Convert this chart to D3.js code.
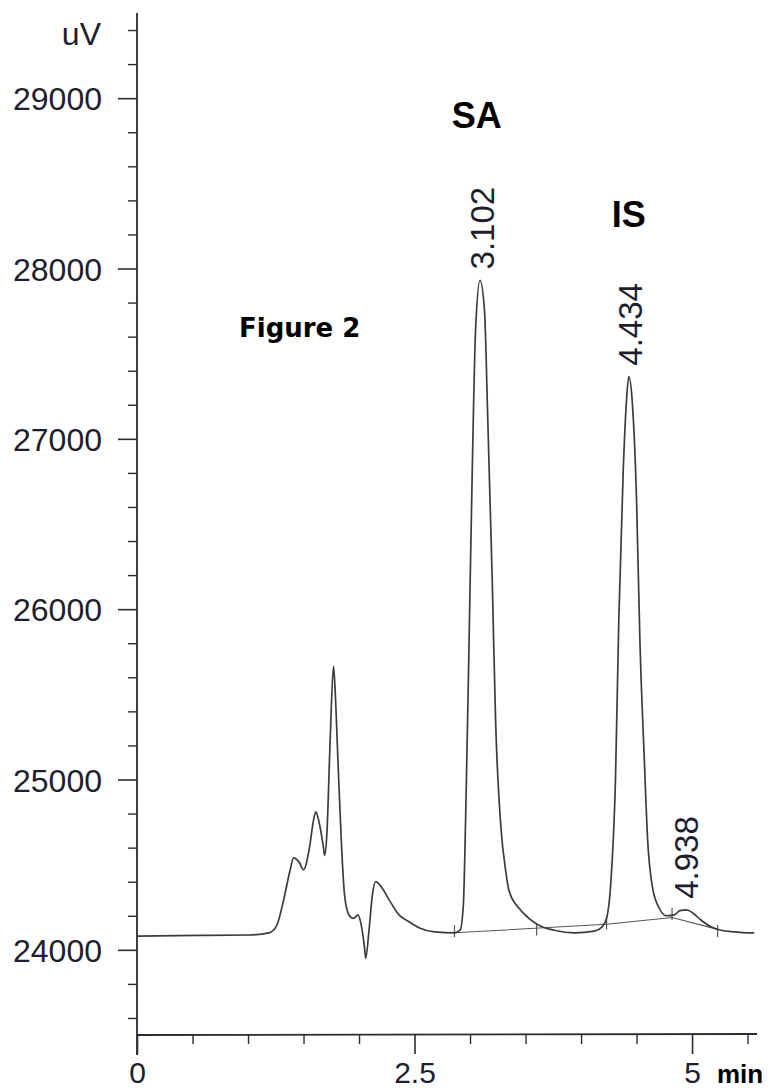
<!DOCTYPE html>
<html>
<head>
<meta charset="utf-8">
<script src="https://cdn.jsdelivr.net/npm/d3@7"></script>
<style>
  body { margin: 0; background: #fff; }
  svg { display: block; }
</style>
</head>
<body>
<script>
// chromatogram trace: time (min) and signal (uV)
const traceTime = [
  0.00, 0.56, 1.01, 1.19, 1.26, 1.32, 1.38, 1.41, 1.46, 1.50,
  1.55, 1.59, 1.61, 1.64, 1.68, 1.69, 1.71, 1.74, 1.77, 1.78,
  1.81, 1.84, 1.87, 1.91, 1.95, 1.99, 2.02, 2.05, 2.06, 2.09,
  2.12, 2.15, 2.20, 2.27, 2.36, 2.45, 2.54, 2.68, 2.86, 2.91,
  2.94, 2.96, 2.99, 3.02, 3.05, 3.09, 3.13, 3.16, 3.20, 3.23,
  3.28, 3.32, 3.35, 3.44, 3.53, 3.62, 3.76, 3.94, 4.12, 4.19,
  4.23, 4.27, 4.31, 4.34, 4.38, 4.41, 4.43, 4.46, 4.50, 4.53,
  4.57, 4.60, 4.64, 4.70, 4.77, 4.84, 4.89, 4.95, 5.01, 5.08,
  5.17, 5.26, 5.38, 5.50, 5.56
];
const traceSignal = [
  24080, 24085, 24087, 24100, 24145, 24290, 24470, 24540, 24515, 24470,
  24585, 24760, 24810, 24750, 24600, 24555, 24675, 25230, 25665, 25585,
  25115, 24645, 24320, 24205, 24185, 24205, 24145, 24010, 23950, 24115,
  24320, 24400, 24370, 24295, 24205, 24165, 24130, 24105, 24100, 24115,
  24265, 24760, 25760, 26815, 27640, 27930, 27755, 27110, 26170, 25350,
  24705, 24470, 24350, 24245, 24185, 24145, 24115, 24100, 24110, 24135,
  24185, 24410, 24995, 25935, 26815, 27230, 27365, 27230, 26640, 25820,
  25115, 24645, 24380, 24250, 24200, 24205, 24230, 24235, 24215, 24175,
  24135, 24115, 24105, 24100, 24100
];

// integration baseline drawn by the data system
const baseTime = [2.86, 4.23, 4.82, 5.23];
const baseSignal = [24100, 24150, 24190, 24120];
// peak start / end markers
const markTime = [2.86, 3.60, 4.23, 4.82, 5.23];
const markSignal = [24110, 24120, 24155, 24210, 24110];

// retention time labels
const peakTimes = [3.102, 4.434, 4.938];
const peakApex = [27930, 27365, 24235];
const peakText = ['3.102', '4.434', '4.938'];

const compounds = ['SA', 'IS'];
const compoundTime = [3.06, 4.43];
const compoundSignal = [28825, 28244];

const yMajor = [24000, 25000, 26000, 27000, 28000, 29000];
const xMajor = [0, 2.5, 5];
const xLabels = ['0', '2.5', '5'];

const W = 772, H = 1090;

const x = d3.scaleLinear().domain([0, 5.585]).range([137, 757]);
const y = d3.scaleLinear().domain([23500, 29500]).range([1035, 13]);

const svg = d3.select('body').append('svg')
    .attr('width', W)
    .attr('height', H);

const ink = '#2b2b33';

// y axis with major ticks (labelled) and minor ticks
svg.append('g')
    .attr('transform', `translate(${x(0)},0)`)
    .call(d3.axisLeft(y).tickValues(yMajor).tickSize(19).tickPadding(16).tickFormat(d3.format('d')))
    .call(g => g.select('.domain').remove())
    .call(g => g.selectAll('line').attr('stroke', ink).attr('stroke-width', 1.6))
    .call(g => g.selectAll('text')
        .attr('fill', '#1e1e2e')
        .style('font-family', '"Liberation Sans", Arial, sans-serif')
        .style('font-size', '32px')
        .attr('dy', '0.36em'));

svg.append('g')
    .attr('transform', `translate(${x(0)},0)`)
    .call(d3.axisLeft(y).tickValues(d3.range(23600, 29500, 200).filter(v => v % 1000 !== 0)).tickSize(9).tickFormat(''))
    .call(g => g.select('.domain').remove())
    .call(g => g.selectAll('line').attr('stroke', ink).attr('stroke-width', 1.4));

// y axis line, runs a little below the x axis
svg.append('line')
    .attr('x1', x(0)).attr('x2', x(0))
    .attr('y1', y.range()[1]).attr('y2', y.range()[0] + 20)
    .attr('stroke', ink).attr('stroke-width', 1.8);

svg.append('text')
    .attr('x', 101).attr('y', 45)
    .attr('text-anchor', 'end')
    .attr('fill', '#1e1e2e')
    .style('font-family', '"Liberation Sans", Arial, sans-serif')
    .style('font-size', '32px')
    .text('uV');

// x axis
svg.append('g')
    .attr('transform', `translate(0,${y(23500)})`)
    .call(d3.axisBottom(x).tickValues(xMajor).tickSize(19).tickPadding(8).tickFormat((d, i) => xLabels[i]))
    .call(g => g.select('.domain').remove())
    .call(g => g.selectAll('line').attr('stroke', ink).attr('stroke-width', 1.6))
    .call(g => g.selectAll('text')
        .attr('fill', '#1e1e2e')
        .style('font-family', '"Liberation Sans", Arial, sans-serif')
        .style('font-size', '30px')
        .attr('dy', '0.71em'));

svg.append('g')
    .attr('transform', `translate(0,${y(23500)})`)
    .call(d3.axisBottom(x).tickValues(d3.range(0.5, 5.6, 0.5).filter(v => v % 2.5 !== 0)).tickSize(9).tickFormat(''))
    .call(g => g.select('.domain').remove())
    .call(g => g.selectAll('line').attr('stroke', ink).attr('stroke-width', 1.4));

svg.append('line')
    .attr('x1', x(0)).attr('x2', x.range()[1])
    .attr('y1', y(23500)).attr('y2', y(23500) - 1)
    .attr('stroke', ink).attr('stroke-width', 1.8);

svg.append('text')
    .attr('x', 717).attr('y', 1083)
    .attr('fill', '#000')
    .style('font-family', '"Liberation Sans", Arial, sans-serif')
    .style('font-weight', 'bold')
    .style('font-size', '26px')
    .text('min');

// integration baseline and peak markers
svg.append('path')
    .datum(baseTime.map((t, i) => [t, baseSignal[i]]))
    .attr('fill', 'none')
    .attr('stroke', '#555')
    .attr('stroke-width', 1.1)
    .attr('d', d3.line().x(d => x(d[0])).y(d => y(d[1])));

svg.append('g').selectAll('line')
    .data(markTime.map((t, i) => [t, markSignal[i]]))
    .enter().append('line')
    .attr('x1', d => x(d[0])).attr('x2', d => x(d[0]))
    .attr('y1', d => y(d[1]) - 6).attr('y2', d => y(d[1]) + 6)
    .attr('stroke', '#555')
    .attr('stroke-width', 1.2);

// the trace
svg.append('path')
    .datum(traceTime.map((t, i) => [t, traceSignal[i]]))
    .attr('fill', 'none')
    .attr('stroke', '#3c3c3c')
    .attr('stroke-width', 1.7)
    .attr('stroke-linejoin', 'round')
    .attr('d', d3.line().x(d => x(d[0])).y(d => y(d[1])).curve(d3.curveMonotoneX));

// retention times, rotated
svg.append('g').selectAll('text')
    .data(peakTimes)
    .enter().append('text')
    .attr('transform', (d, i) => `translate(${x(d) + 13},${y(peakApex[i]) - 11}) rotate(-90)`)
    .attr('fill', '#1e1e2e')
    .style('font-family', '"Liberation Sans", Arial, sans-serif')
    .style('font-size', '33px')
    .text((d, i) => peakText[i]);

// compound names
svg.append('g').selectAll('text')
    .data(compounds)
    .enter().append('text')
    .attr('x', (d, i) => x(compoundTime[i]))
    .attr('y', (d, i) => y(compoundSignal[i]))
    .attr('text-anchor', 'middle')
    .attr('fill', '#000')
    .style('font-family', '"Liberation Sans", Arial, sans-serif')
    .style('font-weight', 'bold')
    .style('font-size', '36px')
    .text(d => d);

svg.append('text')
    .attr('x', 239).attr('y', 337)
    .attr('fill', '#000')
    .style('font-family', '"DejaVu Sans", Verdana, sans-serif')
    .style('font-weight', 'bold')
    .style('font-size', '26px')
    .text('Figure 2');
</script>
</body>
</html>
